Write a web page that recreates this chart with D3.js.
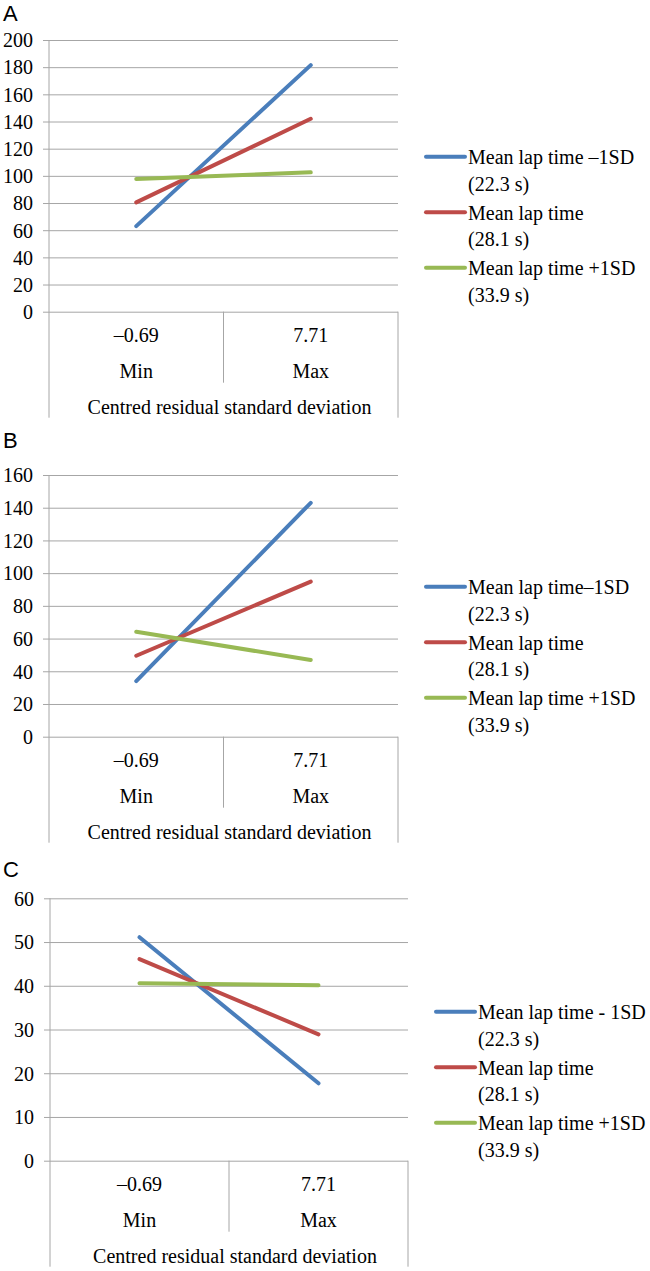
<!DOCTYPE html>
<html><head><meta charset="utf-8">
<script src="https://cdn.jsdelivr.net/npm/d3@7"></script>
<style>
body{margin:0;background:#fff;}
svg text{font-family:"Liberation Serif","Times New Roman",serif;fill:#000;}
</style></head>
<body><svg id="chart" width="650" height="1271"></svg>
<script>
// ---- data ----
const categories = ["Min", "Max"];
const categoryValues = ["\u20130.69", "7.71"];
const axisTitle = "Centred residual standard deviation";
const seriesColors = ["#4A7EBB", "#BE4B48", "#98B954"];
const panelLabels = ["A", "B", "C"];
const legendA = [["Mean lap time \u20131SD", "(22.3 s)"], ["Mean lap time", "(28.1 s)"], ["Mean lap time +1SD", "(33.9 s)"]];
const legendB = [["Mean lap time\u20131SD", "(22.3 s)"], ["Mean lap time", "(28.1 s)"], ["Mean lap time +1SD", "(33.9 s)"]];
const legendC = [["Mean lap time - 1SD", "(22.3 s)"], ["Mean lap time", "(28.1 s)"], ["Mean lap time +1SD", "(33.9 s)"]];
// values at [Min, Max] for series: -1SD, mean, +1SD
const valuesA = [[63, 181.5], [80.5, 142], [97.7, 102.6]];
const valuesB = [[34, 143], [49.5, 94.8], [64.2, 46.9]];
const valuesC = [[51.1, 17.7], [46.1, 28.9], [40.6, 40.1]];
const ticksA = [0, 20, 40, 60, 80, 100, 120, 140, 160, 180, 200];
const ticksB = [0, 20, 40, 60, 80, 100, 120, 140, 160];
const ticksC = [0, 10, 20, 30, 40, 50, 60];

const svg = d3.select("#chart");
const gridColor = "#A6A6A6";
const serif = "'Liberation Serif','Times New Roman',serif";
const fs = "20px";

function drawPanel(cfg) {
  const g = svg.append("g");
  const x = d3.scaleBand().domain(categories).range([cfg.left, cfg.right]);
  const y = d3.scaleLinear().domain([0, d3.max(cfg.ticks)]).range([cfg.zero, cfg.top]);

  // panel letter
  g.append("text").attr("x", 3).attr("y", cfg.letterY)
    .style("font-family", "'Liberation Sans', Arial, sans-serif").style("font-size", "22px")
    .text(cfg.letter);

  // gridlines + tick labels via axis
  const ax = g.append("g").attr("transform", `translate(${cfg.left},0)`)
    .call(d3.axisLeft(y).tickValues(cfg.ticks).tickSize(-(cfg.right - cfg.left)).tickSizeOuter(0).tickPadding(0).tickFormat(d3.format("d")));
  ax.attr("font-family", serif).attr("font-size", fs);
  ax.select(".domain").remove();
  ax.selectAll(".tick line").attr("x1", -6).attr("stroke", gridColor).attr("stroke-width", 1);
  ax.selectAll(".tick text").attr("x", -16).attr("dy", "0.34em").style("font-size", fs)
    .style("font-family", serif).attr("fill", "#000");

  // vertical axis line & category separators
  const bottom = cfg.zero + 106;
  g.append("line").attr("x1", cfg.left).attr("x2", cfg.left).attr("y1", cfg.top).attr("y2", bottom)
    .attr("stroke", gridColor).attr("stroke-width", 1);
  g.append("line").attr("x1", cfg.right).attr("x2", cfg.right).attr("y1", cfg.zero).attr("y2", bottom)
    .attr("stroke", gridColor).attr("stroke-width", 1);
  const mid = x(categories[1]);
  g.append("line").attr("x1", mid).attr("x2", mid).attr("y1", cfg.zero).attr("y2", cfg.zero + 71)
    .attr("stroke", gridColor).attr("stroke-width", 1);

  // category labels
  categories.forEach((c, i) => {
    const cx = x(c) + x.bandwidth() / 2;
    g.append("text").attr("x", cx).attr("y", cfg.zero + 30).attr("text-anchor", "middle")
      .style("font-size", fs).text(categoryValues[i]);
    g.append("text").attr("x", cx).attr("y", cfg.zero + 66).attr("text-anchor", "middle")
      .style("font-size", fs).text(c);
  });
  g.append("text").attr("x", (cfg.left + cfg.right) / 2 + 6).attr("y", cfg.zero + 102).attr("text-anchor", "middle")
    .style("font-size", fs).text(axisTitle);

  // series lines
  const line = d3.line().x((d, i) => x(categories[i]) + x.bandwidth() / 2).y(d => y(d));
  cfg.values.forEach((vals, s) => {
    g.append("path").attr("d", line(vals)).attr("fill", "none")
      .attr("stroke", seriesColors[s]).attr("stroke-width", 4).attr("stroke-linecap", "round");
  });

  // legend
  cfg.legend.forEach((lbl, s) => {
    const ly = cfg.legendY + s * 55.5;
    g.append("line").attr("x1", cfg.legendX).attr("x2", cfg.legendX + 39).attr("y1", ly).attr("y2", ly)
      .attr("stroke", seriesColors[s]).attr("stroke-width", 4).attr("stroke-linecap", "round");
    g.append("text").attr("x", cfg.legendX + 42).attr("y", ly + 7.5).style("font-size", fs).text(lbl[0]);
    g.append("text").attr("x", cfg.legendX + 42).attr("y", ly + 34).style("font-size", fs).text(lbl[1]);
  });
}

drawPanel({letter: panelLabels[0], letterY: 21, left: 49, right: 398, top: 40, zero: 311.7, ticks: ticksA, values: valuesA, legend: legendA, legendX: 426, legendY: 156.7});
drawPanel({letter: panelLabels[1], letterY: 448, left: 49, right: 398, top: 475, zero: 736.7, ticks: ticksB, values: valuesB, legend: legendB, legendX: 426, legendY: 586.7});
drawPanel({letter: panelLabels[2], letterY: 877, left: 50, right: 408, top: 898.3, zero: 1160.7, ticks: ticksC, values: valuesC, legend: legendC, legendX: 436, legendY: 1011.7});
</script></body></html>
